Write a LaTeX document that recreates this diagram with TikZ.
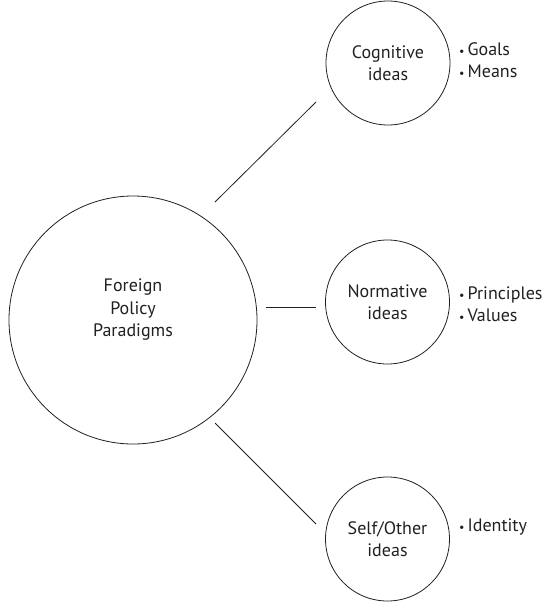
\documentclass[tikz,border=0pt]{standalone}
\usepackage{fontspec}
\setmainfont{PT Sans}
\definecolor{ink}{HTML}{231F20}
\begin{document}
\begin{tikzpicture}[x=1pt,y=-1pt,
  every node/.style={text=ink, font=\fontsize{18}{22.5}\selectfont},
  bigcirc/.style={circle, draw=ink, line width=0.8pt, minimum size=248pt, inner sep=0pt},
  idea/.style={circle, draw=ink, line width=0.8pt, minimum size=124pt, inner sep=0pt, align=center},
  bullets/.style={anchor=west, align=left, inner sep=0pt},
  link/.style={draw=ink, line width=0.8pt}]
\useasboundingbox (0,0) rectangle (545,606);
\node[bigcirc, label={[name=fpptext, align=center, yshift=10pt]center:Foreign\\Policy\\Paradigms}] (fpp) at (133,320) {};
\node[idea] (cog) at (388,63) {Cognitive\\ideas};
\node[idea] (norm) at (387.5,302) {Normative\\ideas};
\node[idea] (self) at (387.5,539) {Self/Other\\ideas};
\node[bullets] (cogl) at (459,60) {{\fontsize{12}{12}\selectfont\textbullet}\,Goals\\{\fontsize{12}{12}\selectfont\textbullet}\,Means};
\node[bullets] (norml) at (459,304) {{\fontsize{12}{12}\selectfont\textbullet}\,Principles\\{\fontsize{12}{12}\selectfont\textbullet}\,Values};
\node[bullets] (selfl) at (459,527) {{\fontsize{12}{12}\selectfont\textbullet}\,Identity};
\coordinate (a1) at ([shift={(82,-118)}]fpp.center);
\coordinate (b1) at ([shift={(-72,39)}]cog.center);
\coordinate (a2) at ([shift={(133,-13)}]fpp.center);
\coordinate (b2) at ([shift={(-71.5,5)}]norm.center);
\coordinate (a3) at ([shift={(82,103)}]fpp.center);
\coordinate (b3) at ([shift={(-71.5,-15)}]self.center);
\draw[link] (a1) -- (b1);
\draw[link] (a2) -- (b2);
\draw[link] (a3) -- (b3);
\end{tikzpicture}
\end{document}
